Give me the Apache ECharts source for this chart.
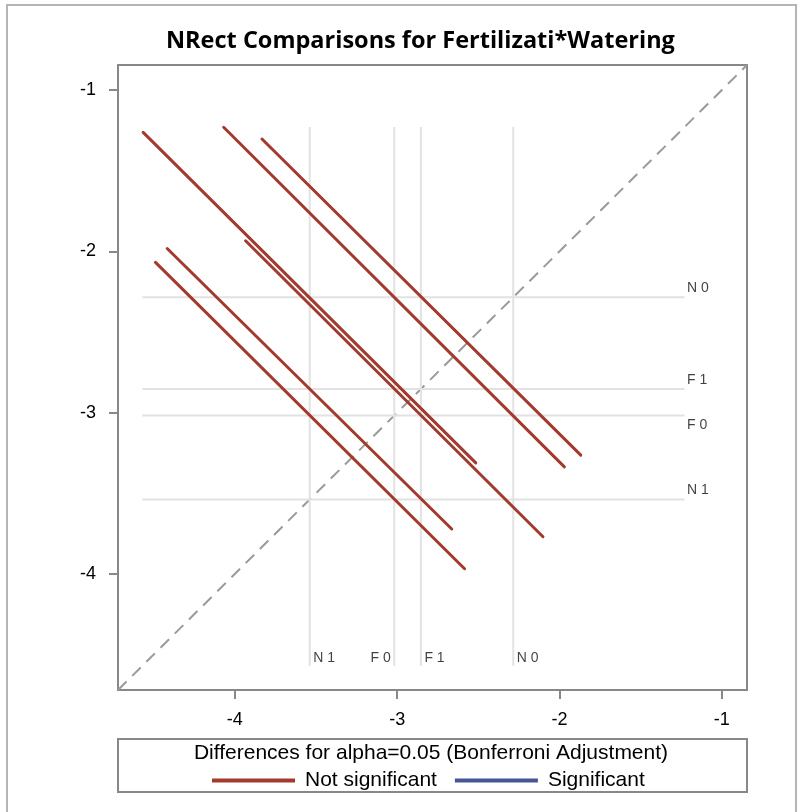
<!DOCTYPE html>
<html>
<head>
<meta charset="utf-8">
<script src="https://cdn.jsdelivr.net/npm/echarts@6/dist/echarts.min.js"></script>
<style>
  html, body { margin: 0; padding: 0; background: #fff; }
  #chart { width: 803px; height: 812px; }
</style>
</head>
<body>
<div id="chart"></div>
<script>
// LS-means of the Fertilizati*Watering levels
const levels = ['N 1', 'F 0', 'F 1', 'N 0'];
const levelMeans = [-3.539, -3.018, -2.854, -2.285];

// Pairwise difference segments (start and end of each interval)
const pairNames = ['N 1 - N 0', 'F 0 - F 1', 'F 0 - N 0', 'F 1 - N 0', 'N 1 - F 1', 'N 1 - F 0'];
const segX0 = [-4.565, -3.934, -4.069, -3.833, -4.417, -4.489];
const segY0 = [-1.263, -1.935, -1.231, -1.304, -1.983, -2.069];
const segX1 = [-2.516, -2.102, -1.970, -1.869, -2.664, -2.585];
const segY1 = [-3.312, -3.770, -3.337, -3.264, -3.722, -3.968];
const segSignificant = [false, false, false, false, false, false];

// Axis settings
const tickValues = [-4, -3, -2, -1];
const axisMin = -4.72;
const axisMax = -0.845;
const refLo = -4.57;
const refHi = -1.23;

const RED = '#A23A2E';
const BLUE = '#445694';
const FONT = '"Liberation Sans", Arial, sans-serif';

const chart = echarts.init(document.getElementById('chart'), null, { renderer: 'canvas' });

const series = [];

// diagonal reference
series.push({
  type: 'line', silent: true, symbol: 'none', z: 1,
  data: [[axisMin, axisMin], [axisMax, axisMax]],
  lineStyle: { color: '#9a9a9a', width: 2, type: [12, 8] }
});

// level reference lines (vertical and horizontal)
levels.forEach((lv, i) => {
  const m = levelMeans[i];
  series.push({
    type: 'line', silent: true, symbol: 'none', z: 1,
    data: [[m, refLo], [m, refHi]],
    lineStyle: { color: '#e2e2e2', width: 2 }
  });
  series.push({
    type: 'line', silent: true, symbol: 'none', z: 1,
    data: [[refLo, m], [refHi, m]],
    lineStyle: { color: '#e2e2e2', width: 2 }
  });
});

// level labels
const hLabelBelow = { 'F 0': true };
const vLabelLeft = { 'F 0': true };
const labelStyle = { color: '#111', fontFamily: FONT, fontSize: 14 };
series.push({
  type: 'scatter', silent: true, symbolSize: 1, z: 3,
  itemStyle: { color: 'transparent' },
  data: levels.map((lv, i) => ({
    value: [refHi, levelMeans[i]],
    label: Object.assign({
      show: true, formatter: lv, position: 'right', distance: 2,
      offset: [0, hLabelBelow[lv] ? 10 : -9]
    }, labelStyle)
  })).concat(levels.map((lv, i) => ({
    value: [levelMeans[i], refLo],
    label: Object.assign({
      show: true, formatter: lv,
      position: vLabelLeft[lv] ? 'left' : 'right', distance: 3,
      offset: [0, -8]
    }, labelStyle)
  })))
});

// comparison segments
pairNames.forEach((name, i) => {
  series.push({
    name: segSignificant[i] ? 'Significant' : 'Not significant',
    type: 'line', symbol: 'none', z: 5,
    data: [[segX0[i], segY0[i]], [segX1[i], segY1[i]]],
    lineStyle: { color: segSignificant[i] ? BLUE : RED, width: 3, cap: 'round' },
    itemStyle: { color: segSignificant[i] ? BLUE : RED }
  });
});
// legend entry for significant differences
series.push({
  name: 'Significant', type: 'line', symbol: 'none', data: [],
  lineStyle: { color: BLUE, width: 3 }, itemStyle: { color: BLUE }
});
if (!segSignificant.some(s => !s)) {
  series.push({ name: 'Not significant', type: 'line', symbol: 'none', data: [],
    lineStyle: { color: RED, width: 3 }, itemStyle: { color: RED } });
}

const axisCommon = {
  type: 'value', min: axisMin, max: axisMax,
  splitLine: { show: false },
  axisLine: { show: true, onZero: false, lineStyle: { color: '#888', width: 2 } },
  axisTick: { show: true, customValues: tickValues, length: 9, lineStyle: { color: '#888', width: 2 } },
  axisLabel: { customValues: tickValues, color: '#000', fontFamily: FONT, fontSize: 18 }
};

chart.setOption({
  animation: false,
  backgroundColor: '#fff',
  title: {
    text: 'NRect Comparisons for Fertilizati*Watering',
    left: 161, top: 24,
    textStyle: { fontFamily: '"Open Sans", sans-serif', fontWeight: 'bold', fontSize: 23.5, color: '#000' }
  },
  grid: {
    left: 118, right: 56, top: 65, bottom: 122,
    show: true, borderColor: '#888', borderWidth: 2, backgroundColor: '#fff'
  },
  xAxis: Object.assign({}, axisCommon, {
    axisLabel: Object.assign({}, axisCommon.axisLabel, { margin: 21 })
  }),
  yAxis: Object.assign({}, axisCommon, {
    axisLabel: Object.assign({}, axisCommon.axisLabel, { margin: 22 })
  }),
  legend: {
    data: ['Not significant', 'Significant'],
    bottom: 16, left: 207,
    icon: 'rect', itemWidth: 83, itemHeight: 4, itemGap: 18,
    textStyle: { fontFamily: FONT, fontSize: 21, color: '#000', padding: [0, 0, 0, 5] }
  },
  graphic: [
    { type: 'rect', shape: { x: 7, y: 5, width: 789, height: 830 }, silent: true,
      style: { fill: null, stroke: '#b5b5b5', lineWidth: 2 }, z: -10 },
    { type: 'rect', shape: { x: 118, y: 739, width: 629, height: 53 }, silent: true,
      style: { fill: null, stroke: '#888', lineWidth: 2 } },
    { type: 'text', x: 431, y: 753, silent: true,
      style: { text: 'Differences for alpha=0.05 (Bonferroni Adjustment)', fill: '#000',
        font: '21px "Liberation Sans", Arial, sans-serif', textAlign: 'center', textVerticalAlign: 'middle' } }
  ],
  series: series
});
</script>
</body>
</html>
